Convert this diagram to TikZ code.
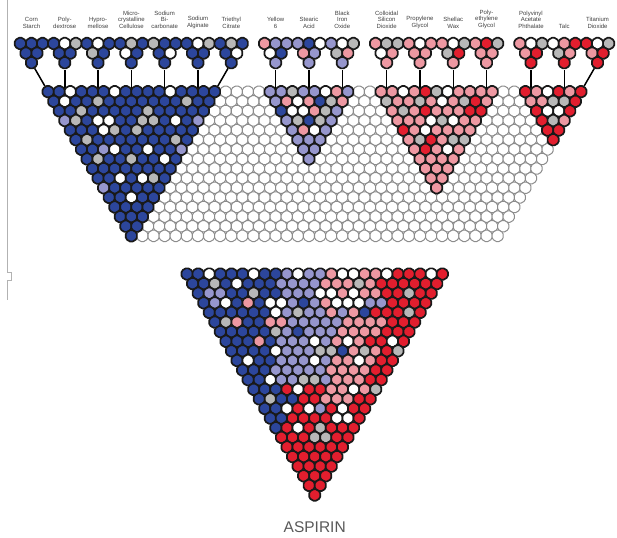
\documentclass[tikz,border=0pt]{standalone}
\usepackage{fontspec}
\setmainfont{Liberation Sans}
\usetikzlibrary{shapes.geometric,positioning,backgrounds}
\definecolor{cB}{RGB}{44,70,156}
\definecolor{cP}{RGB}{150,150,205}
\definecolor{cK}{RGB}{238,152,162}
\definecolor{cR}{RGB}{226,30,46}
\definecolor{cG}{RGB}{184,184,184}
\definecolor{cW}{RGB}{255,255,255}
\newcommand\hextri[4]{\foreach \rw [count=\ri from 0] in {#4}{\foreach \col [count=\ki from 0] in \rw
  \node[hex,fill=c\col] (#1-\ri-\ki) at ({#2+5.55*\ri+11.1*\ki},{#3+9.61*\ri}) {};}}

\begin{document}
\begin{tikzpicture}[x=1pt,y=-1pt,
  hex/.style={regular polygon,regular polygon sides=6,shape border rotate=30,minimum size=12.8pt,inner sep=0pt,draw=black!90,line width=1.7pt,rounded corners=1.5pt},
  blank/.style={hex,fill=white,draw=black!45,line width=1pt},
  lab/.style={font=\fontsize{6}{6.4}\selectfont,align=center,inner sep=0.5pt,text=black!75}]
  \useasboundingbox (0,0) rectangle (617,537);
  \draw[black!30,line width=0.7pt] (7.5,0) -- (7.5,272) -- (11.5,272) -- (11.5,280) -- (7.5,280) -- (7.5,300);
  \foreach \ri in {0,...,15}{\pgfmathtruncatemacro\kmax{48-\ri}
    \foreach \ki in {0,...,\kmax}{\pgfmathtruncatemacro\inside{(\ki<=15-\ri)||(\ki>=20&&\ki<=27-\ri)||(\ki>=30&&\ki<=40-\ri)||(\ki>=43)}
      \ifnum\inside=0 \node[blank] (w-\ri-\ki) at ({48.1+5.55*\ri+11.1*\ki},{91.7+9.61*\ri}) {};\fi}}
  \hextri{bl}{48.1}{91.7}{{B,B,W,B,B,B,W,B,B,B,B,W,B,B,B,B},{B,W,B,B,G,B,B,B,B,B,B,B,G,B,B},{B,B,G,B,B,B,B,B,G,B,B,B,B,B},{P,G,B,W,W,B,B,G,G,B,W,B,P},{B,B,B,W,G,B,G,B,B,B,B,B},{B,G,B,B,B,B,B,B,B,G,B},{B,B,P,W,B,B,W,B,B,P},{B,G,B,B,G,B,B,W,B},{B,B,B,B,B,B,B,B},{B,B,W,B,W,G,B},{P,B,B,B,B,B},{B,B,W,B,B},{B,B,B,B},{B,B,B},{B,B},{B}}
  \hextri{pu}{270.1}{91.7}{{P,P,G,P,P,W,K,P},{P,K,W,K,B,G,K},{B,W,W,K,G,P},{P,G,B,G,P},{P,K,W,P},{P,P,P},{P,P},{P}}
  \hextri{pk}{381.1}{91.7}{{K,K,W,K,R,G,W,K,K,K,K},{G,K,K,G,K,W,K,G,R,K},{K,G,K,R,K,K,K,R,R},{K,K,K,W,G,W,K,K},{R,K,W,K,K,K,K},{K,G,R,K,G,G},{K,R,K,W,K},{K,K,K,K},{K,K,K},{K,K},{K}}
  \hextri{rd}{525.4}{91.7}{{R,K,W,R,K,R},{K,K,G,G,R},{R,W,W,R},{R,G,K},{R,R},{R}}
  \hextri{s1}{20.35}{43.5}{{B,B,B},{B,B},{B}}
  \hextri{s2}{20.35+11.1*3}{43.5}{{B,W,G},{B,B},{B}}
  \hextri{s3}{20.35+11.1*6}{43.5}{{B,W,B},{G,B},{B}}
  \hextri{s4}{20.35+11.1*9}{43.5}{{B,G,B},{W,B},{B}}
  \hextri{s5}{20.35+11.1*12}{43.5}{{G,B,B},{B,W},{B}}
  \hextri{s6}{20.35+11.1*15}{43.5}{{B,W,G},{B,B},{B}}
  \hextri{s7}{20.35+11.1*18}{43.5}{{B,G,B},{B,W},{B}}
  \hextri{s8}{20.35+11.1*22}{43.5}{{K,P,P},{W,B},{P}}
  \hextri{s9}{20.35+11.1*25}{43.5}{{P,B,W},{K,P},{P}}
  \hextri{s10}{20.35+11.1*28}{43.5}{{P,W,G},{G,K},{P}}
  \hextri{s11}{20.35+11.1*32}{43.5}{{K,G,G},{W,K},{K}}
  \hextri{s12}{20.35+11.1*35}{43.5}{{K,W,K},{K,K},{K}}
  \hextri{s13}{20.35+11.1*38}{43.5}{{K,W,G},{G,R},{K}}
  \hextri{s14}{20.35+11.1*41}{43.5}{{K,R,G},{K,K},{K}}
  \hextri{s15}{20.35+11.1*45}{43.5}{{K,W,G},{K,R},{R}}
  \hextri{s16}{20.35+11.1*48}{43.5}{{W,K,R},{G,K},{R}}
  \hextri{s17}{20.35+11.1*51}{43.5}{{R,W,G},{K,R},{R}}
  \begin{pgfonlayer}{background}
    \draw[line width=1.5pt] (s1-2-0) -- (bl-0-0) (s7-2-0) -- (bl-0-15) (s17-2-0) -- (rd-0-5);
    \foreach \si in {2,...,6,8,9,...,16} \draw[line width=1.5pt] (s\si-2-0) -- (s\si-2-0 |- bl-0-0);
  \end{pgfonlayer}
  \foreach \si/\txt in {1/Corn\\Starch,2/Poly-\\dextrose,3/Hypro-\\mellose,4/Micro-\\crystalline\\Cellulose,5/Sodium\\Bi-\\carbonate,6/Sodium\\Alginate,7/Triethyl\\Citrate,8/Yellow\\6,9/Stearic\\Acid,10/Black\\Iron\\Oxide,11/Colloidal\\Silicon\\Dioxide,12/Propylene\\Glycol,13/Shellac\\Wax,14/Poly-\\ethylene\\Glycol,15/Polyvinyl\\Acetate\\Phthalate,16/Talc,17/Titanium\\Dioxide}
    \node[lab,above=7pt of s\si-0-1] (l\si) {\txt};
  \hextri{a}{187.05}{274}{{B,B,W,B,B,B,W,B,B,P,W,P,P,K,W,W,K,K,W,R,R,R,W,R},{B,B,G,B,W,B,B,B,P,P,P,P,K,K,K,G,K,R,R,R,R,R,R},{B,P,P,B,B,G,B,B,P,P,P,W,W,K,W,K,K,R,R,G,R,R},{B,P,W,B,K,B,W,W,P,B,P,K,W,W,W,P,P,R,R,R,R},{B,B,B,B,B,B,W,P,G,P,P,K,P,K,B,R,R,R,G,R},{B,G,K,B,B,K,K,P,P,P,P,P,K,K,K,K,R,R,R},{B,B,B,B,B,G,P,B,P,P,P,K,K,K,K,R,R,R},{B,B,B,K,B,P,P,P,W,P,K,W,K,R,R,W,R},{B,B,B,B,W,P,P,P,G,G,B,K,G,K,R,G},{B,W,B,B,P,P,P,W,P,K,K,W,K,R,R},{B,B,B,P,P,P,P,P,K,K,K,K,R,R},{B,B,W,P,P,G,G,P,K,K,K,R,R},{B,B,B,R,W,R,R,K,K,W,K,G},{B,G,B,B,R,R,K,K,K,R,R},{B,B,W,R,W,P,R,W,R,R},{B,B,R,R,R,R,W,W,R},{B,R,W,R,G,R,R,R},{R,R,R,G,G,R,R},{R,R,R,R,R,R},{R,R,R,R,R},{R,R,R,R},{R,R,R},{R,R},{R}}
  \node[font=\fontsize{15.5}{16}\selectfont,text=black!65] (title) at (314.7,527) {ASPIRIN};
\end{tikzpicture}
\end{document}
